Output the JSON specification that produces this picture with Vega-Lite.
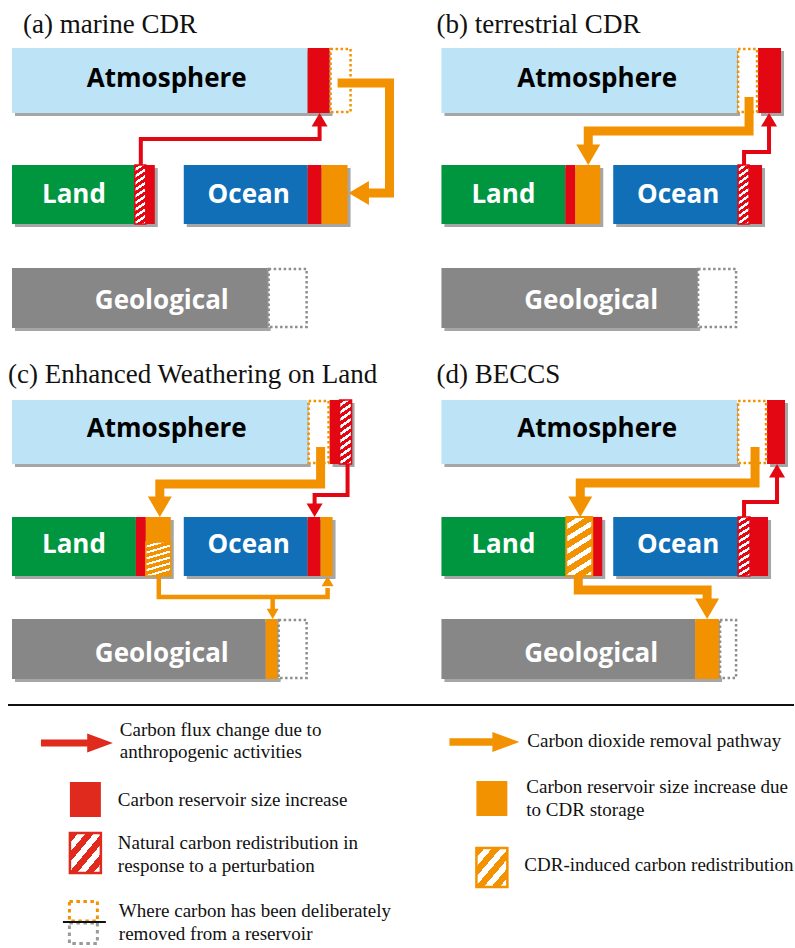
{
  "$schema": "https://vega.github.io/schema/vega-lite/v6.json",
  "width": 795,
  "height": 948,
  "padding": 0,
  "autosize": {"type": "fit", "contains": "padding"},
  "background": "white",
  "config": {"view": {"stroke": null}, "axis": {"disable": true}},
  "datasets": {
    "shadows": [
      {"x": 12, "x2": 330, "y": 48, "y2": 113}, {"x": 12, "x2": 155, "y": 165, "y2": 224}, {"x": 184, "x2": 348, "y": 165, "y2": 224}, {"x": 12, "x2": 268, "y": 268, "y2": 328},
      {"x": 442, "x2": 738, "y": 48, "y2": 113}, {"x": 759, "x2": 782, "y": 48, "y2": 113}, {"x": 442, "x2": 601, "y": 165, "y2": 224}, {"x": 614, "x2": 763, "y": 165, "y2": 224}, {"x": 442, "x2": 698, "y": 268, "y2": 328},
      {"x": 12, "x2": 308, "y": 400, "y2": 464}, {"x": 330, "x2": 352, "y": 400, "y2": 464}, {"x": 12, "x2": 171, "y": 517, "y2": 576}, {"x": 184, "x2": 333, "y": 517, "y2": 576}, {"x": 12, "x2": 278, "y": 619, "y2": 679},
      {"x": 442, "x2": 738, "y": 400, "y2": 464}, {"x": 768, "x2": 786, "y": 400, "y2": 464}, {"x": 442, "x2": 603, "y": 517, "y2": 576}, {"x": 614, "x2": 769, "y": 517, "y2": 576}, {"x": 442, "x2": 720, "y": 619, "y2": 679}
    ],
    "segments": [
      {"c": "atm", "x": 12, "x2": 308, "y": 48, "y2": 113}, {"c": "red", "x": 308, "x2": 330, "y": 48, "y2": 113},
      {"c": "land", "x": 12, "x2": 135, "y": 165, "y2": 224}, {"c": "red", "x": 146, "x2": 155, "y": 165, "y2": 224},
      {"c": "ocean", "x": 184, "x2": 308, "y": 165, "y2": 224}, {"c": "red", "x": 308, "x2": 322, "y": 165, "y2": 224}, {"c": "orange", "x": 322, "x2": 348, "y": 165, "y2": 224},
      {"c": "geo", "x": 12, "x2": 268, "y": 268, "y2": 328},
      {"c": "atm", "x": 442, "x2": 738, "y": 48, "y2": 113}, {"c": "red", "x": 759, "x2": 782, "y": 48, "y2": 113},
      {"c": "land", "x": 442, "x2": 566, "y": 165, "y2": 224}, {"c": "red", "x": 566, "x2": 576, "y": 165, "y2": 224}, {"c": "orange", "x": 576, "x2": 601, "y": 165, "y2": 224},
      {"c": "ocean", "x": 614, "x2": 739, "y": 165, "y2": 224}, {"c": "red", "x": 750, "x2": 763, "y": 165, "y2": 224},
      {"c": "geo", "x": 442, "x2": 698, "y": 268, "y2": 328},
      {"c": "atm", "x": 12, "x2": 308, "y": 400, "y2": 464}, {"c": "red", "x": 330, "x2": 340, "y": 400, "y2": 464},
      {"c": "land", "x": 12, "x2": 136, "y": 517, "y2": 576}, {"c": "red", "x": 136, "x2": 146, "y": 517, "y2": 576}, {"c": "orange", "x": 146, "x2": 171, "y": 517, "y2": 542},
      {"c": "ocean", "x": 184, "x2": 308, "y": 517, "y2": 576}, {"c": "red", "x": 308, "x2": 321, "y": 517, "y2": 576}, {"c": "orange", "x": 321, "x2": 333, "y": 517, "y2": 576},
      {"c": "geo", "x": 12, "x2": 266, "y": 619, "y2": 679}, {"c": "orange", "x": 266, "x2": 278, "y": 619, "y2": 679},
      {"c": "atm", "x": 442, "x2": 738, "y": 400, "y2": 464}, {"c": "red", "x": 768, "x2": 786, "y": 400, "y2": 464},
      {"c": "land", "x": 442, "x2": 567, "y": 517, "y2": 576}, {"c": "red", "x": 593, "x2": 603, "y": 517, "y2": 576},
      {"c": "ocean", "x": 614, "x2": 739, "y": 517, "y2": 576}, {"c": "red", "x": 751, "x2": 769, "y": 517, "y2": 576},
      {"c": "geo", "x": 442, "x2": 696, "y": 619, "y2": 679}, {"c": "orange", "x": 696, "x2": 720, "y": 619, "y2": 679},
      {"c": "legred", "x": 70, "x2": 101, "y": 782, "y2": 817}, {"c": "orange", "x": 477, "x2": 508, "y": 781, "y2": 816}
    ],
    "dotted": [
      {"k": "o", "x": 331, "x2": 351, "y": 49, "y2": 112}, {"k": "g", "x": 269, "x2": 307, "y": 269, "y2": 327},
      {"k": "o", "x": 739, "x2": 758, "y": 49, "y2": 112}, {"k": "g", "x": 699, "x2": 737, "y": 269, "y2": 327},
      {"k": "o", "x": 309, "x2": 329, "y": 401, "y2": 463}, {"k": "g", "x": 279, "x2": 307, "y": 620, "y2": 678},
      {"k": "o", "x": 739, "x2": 767, "y": 401, "y2": 463}, {"k": "g", "x": 721, "x2": 737, "y": 620, "y2": 678}
    ],
    "legdotted": [
      {"k": "o", "x": 69.5, "x2": 97.5, "y": 901.5, "y2": 921},
      {"k": "g", "x": 69.5, "x2": 97.5, "y": 923, "y2": 943.5}
    ],
    "paths": [
      {"id": "a_red", "kind": "anthro", "o": 1, "x": 141, "y": 165}, {"id": "a_red", "kind": "anthro", "o": 2, "x": 141, "y": 139}, {"id": "a_red", "kind": "anthro", "o": 3, "x": 320, "y": 139}, {"id": "a_red", "kind": "anthro", "o": 4, "x": 320, "y": 125},
      {"id": "a_org", "kind": "cdr", "o": 1, "x": 338, "y": 83}, {"id": "a_org", "kind": "cdr", "o": 2, "x": 390, "y": 83}, {"id": "a_org", "kind": "cdr", "o": 3, "x": 390, "y": 193}, {"id": "a_org", "kind": "cdr", "o": 4, "x": 366, "y": 193},
      {"id": "b_org", "kind": "cdr", "o": 1, "x": 750, "y": 97}, {"id": "b_org", "kind": "cdr", "o": 2, "x": 750, "y": 131}, {"id": "b_org", "kind": "cdr", "o": 3, "x": 589, "y": 131}, {"id": "b_org", "kind": "cdr", "o": 4, "x": 589, "y": 148},
      {"id": "b_red", "kind": "anthro", "o": 1, "x": 745, "y": 165}, {"id": "b_red", "kind": "anthro", "o": 2, "x": 745, "y": 152}, {"id": "b_red", "kind": "anthro", "o": 3, "x": 770, "y": 152}, {"id": "b_red", "kind": "anthro", "o": 4, "x": 770, "y": 125},
      {"id": "c_org", "kind": "cdr", "o": 1, "x": 321, "y": 447}, {"id": "c_org", "kind": "cdr", "o": 2, "x": 321, "y": 484}, {"id": "c_org", "kind": "cdr", "o": 3, "x": 160, "y": 484}, {"id": "c_org", "kind": "cdr", "o": 4, "x": 160, "y": 500},
      {"id": "c_red", "kind": "anthro", "o": 1, "x": 348, "y": 464}, {"id": "c_red", "kind": "anthro", "o": 2, "x": 348, "y": 495}, {"id": "c_red", "kind": "anthro", "o": 3, "x": 315, "y": 495}, {"id": "c_red", "kind": "anthro", "o": 4, "x": 315, "y": 505},
      {"id": "c_t1", "kind": "cdr_thin", "o": 1, "x": 159, "y": 576}, {"id": "c_t1", "kind": "cdr_thin", "o": 2, "x": 159, "y": 597}, {"id": "c_t1", "kind": "cdr_thin", "o": 3, "x": 328, "y": 597}, {"id": "c_t1", "kind": "cdr_thin", "o": 4, "x": 328, "y": 588},
      {"id": "c_t2", "kind": "cdr_thin", "o": 1, "x": 273, "y": 597}, {"id": "c_t2", "kind": "cdr_thin", "o": 2, "x": 273, "y": 610},
      {"id": "d_org1", "kind": "cdr", "o": 1, "x": 756, "y": 447}, {"id": "d_org1", "kind": "cdr", "o": 2, "x": 756, "y": 483}, {"id": "d_org1", "kind": "cdr", "o": 3, "x": 581, "y": 483}, {"id": "d_org1", "kind": "cdr", "o": 4, "x": 581, "y": 500},
      {"id": "d_red", "kind": "anthro", "o": 1, "x": 745, "y": 517}, {"id": "d_red", "kind": "anthro", "o": 2, "x": 745, "y": 502}, {"id": "d_red", "kind": "anthro", "o": 3, "x": 778, "y": 502}, {"id": "d_red", "kind": "anthro", "o": 4, "x": 778, "y": 476},
      {"id": "d_org2", "kind": "cdr", "o": 1, "x": 579, "y": 576}, {"id": "d_org2", "kind": "cdr", "o": 2, "x": 579, "y": 590}, {"id": "d_org2", "kind": "cdr", "o": 3, "x": 708, "y": 590}, {"id": "d_org2", "kind": "cdr", "o": 4, "x": 708, "y": 601},
      {"id": "l_red", "kind": "leg_anthro", "o": 1, "x": 41, "y": 743}, {"id": "l_red", "kind": "leg_anthro", "o": 2, "x": 88, "y": 743},
      {"id": "l_org", "kind": "leg_cdr", "o": 1, "x": 450, "y": 742}, {"id": "l_org", "kind": "leg_cdr", "o": 2, "x": 498, "y": 742}
    ],
    "heads": [
      {"kind": "anthro", "dir": "up", "x": 320, "y": 113}, {"kind": "cdr", "dir": "left", "x": 349, "y": 193},
      {"kind": "cdr", "dir": "down", "x": 589, "y": 165}, {"kind": "anthro", "dir": "up", "x": 770, "y": 113},
      {"kind": "cdr", "dir": "down", "x": 160, "y": 517}, {"kind": "anthro", "dir": "down", "x": 315, "y": 517},
      {"kind": "cdr_thin", "dir": "up", "x": 328, "y": 576}, {"kind": "cdr_thin", "dir": "down", "x": 273, "y": 619},
      {"kind": "cdr", "dir": "down", "x": 581, "y": 517}, {"kind": "anthro", "dir": "up", "x": 778, "y": 464}, {"kind": "cdr", "dir": "down", "x": 708, "y": 619},
      {"kind": "leg_anthro", "dir": "right", "x": 113, "y": 743}, {"kind": "leg_cdr", "dir": "right", "x": 520, "y": 742}
    ],
    "labels": [
      {"t": "Atmosphere", "k": "atm", "x": 167, "y": 87}, {"t": "Atmosphere", "k": "atm", "x": 598, "y": 87},
      {"t": "Atmosphere", "k": "atm", "x": 167, "y": 437}, {"t": "Atmosphere", "k": "atm", "x": 598, "y": 437},
      {"t": "Land", "k": "w", "x": 74, "y": 203}, {"t": "Land", "k": "w", "x": 504, "y": 203}, {"t": "Land", "k": "w", "x": 74, "y": 553}, {"t": "Land", "k": "w", "x": 504, "y": 553},
      {"t": "Ocean", "k": "w", "x": 249, "y": 203}, {"t": "Ocean", "k": "w", "x": 679, "y": 203}, {"t": "Ocean", "k": "w", "x": 249, "y": 553}, {"t": "Ocean", "k": "w", "x": 679, "y": 553},
      {"t": "Geological", "k": "w", "x": 162, "y": 309}, {"t": "Geological", "k": "w", "x": 592, "y": 309}, {"t": "Geological", "k": "w", "x": 162, "y": 662}, {"t": "Geological", "k": "w", "x": 592, "y": 662}
    ],
    "titles": [
      {"t": "(a) marine CDR", "x": 23, "y": 33}, {"t": "(b) terrestrial CDR", "x": 437, "y": 33},
      {"t": "(c) Enhanced Weathering on Land", "x": 8, "y": 383}, {"t": "(d) BECCS", "x": 437, "y": 383}
    ],
    "legtext": [
      {"t": "Carbon flux change due to", "x": 120, "y": 736}, {"t": "anthropogenic activities", "x": 120, "y": 758},
      {"t": "Carbon reservoir size increase", "x": 118, "y": 806},
      {"t": "Natural carbon redistribution in", "x": 118, "y": 849}, {"t": "response to a perturbation", "x": 118, "y": 872},
      {"t": "Where carbon has been deliberately", "x": 119, "y": 917}, {"t": "removed from a reservoir", "x": 119, "y": 940},
      {"t": "Carbon dioxide removal pathway", "x": 528, "y": 747},
      {"t": "Carbon reservoir size increase due", "x": 527, "y": 793}, {"t": "to CDR storage", "x": 527, "y": 816},
      {"t": "CDR-induced carbon redistribution", "x": 525, "y": 871}
    ],
    "rules": [
      {"x": 8, "x2": 795, "y": 705},
      {"x": 63, "x2": 106, "y": 922}
    ]
  },
  "resolve": {"scale": {"color": "independent", "stroke": "independent", "size": "independent", "shape": "independent", "strokeWidth": "independent"}},
  "layer": [
    {
      "data": {"name": "shadows"},
      "mark": {"type": "rect", "color": "#3a3a3a", "opacity": 0.45, "xOffset": 3, "x2Offset": 3, "yOffset": 3, "y2Offset": 3},
      "encoding": {
        "x": {"field": "x", "type": "quantitative", "scale": {"domain": [0, 795], "nice": false}},
        "x2": {"field": "x2"},
        "y": {"field": "y", "type": "quantitative", "scale": {"domain": [0, 948], "nice": false, "reverse": true}},
        "y2": {"field": "y2"}
      }
    },
    {
      "data": {"name": "segments"},
      "mark": {"type": "rect", "opacity": 1},
      "encoding": {
        "x": {"field": "x", "type": "quantitative", "scale": {"domain": [0, 795], "nice": false}},
        "x2": {"field": "x2"},
        "y": {"field": "y", "type": "quantitative", "scale": {"domain": [0, 948], "nice": false, "reverse": true}},
        "y2": {"field": "y2"},
        "color": {"field": "c", "type": "nominal", "legend": null,
          "scale": {"domain": ["atm", "land", "ocean", "geo", "red", "orange", "legred"],
                    "range": ["#bde3f6", "#009640", "#106fb7", "#878787", "#e30613", "#f39200", "#df2a1d"]}}
      }
    },
    {
      "data": {"name": "dotted"},
      "mark": {"type": "rect", "fill": "white", "strokeWidth": 2.5, "strokeDash": [2.5, 2.5]},
      "encoding": {
        "x": {"field": "x", "type": "quantitative", "scale": {"domain": [0, 795], "nice": false}},
        "x2": {"field": "x2"},
        "y": {"field": "y", "type": "quantitative", "scale": {"domain": [0, 948], "nice": false, "reverse": true}},
        "y2": {"field": "y2"},
        "stroke": {"field": "k", "type": "nominal", "legend": null, "scale": {"domain": ["o", "g"], "range": ["#f39200", "#8e8e8e"]}}
      }
    },
    {
      "data": {"name": "legdotted"},
      "mark": {"type": "rect", "fill": "white", "strokeWidth": 3, "strokeDash": [3.5, 3.5]},
      "encoding": {
        "x": {"field": "x", "type": "quantitative", "scale": {"domain": [0, 795], "nice": false}},
        "x2": {"field": "x2"},
        "y": {"field": "y", "type": "quantitative", "scale": {"domain": [0, 948], "nice": false, "reverse": true}},
        "y2": {"field": "y2"},
        "stroke": {"field": "k", "type": "nominal", "legend": null, "scale": {"domain": ["o", "g"], "range": ["#f39200", "#9a9a9a"]}}
      }
    },
    {
      "data": {"values": [
        {"x": 135, "x2": 146, "y": 165, "y2": 224}, {"x": 739, "x2": 750, "y": 165, "y2": 224},
        {"x": 340, "x2": 352, "y": 400, "y2": 464}, {"x": 739, "x2": 751, "y": 517, "y2": 576}
      ]},
      "mark": {"type": "rect", "stroke": "#e30613", "strokeWidth": 1.5,
        "fill": {"gradient": "linear", "x1": 0, "y1": 0, "x2": 0.145, "y2": 1.11, "stops": [
          {"offset": 0, "color": "#e30613"}, {"offset": 0.055, "color": "#e30613"}, {"offset": 0.055, "color": "#ffffff"}, {"offset": 0.1, "color": "#ffffff"},
          {"offset": 0.1, "color": "#e30613"}, {"offset": 0.155, "color": "#e30613"}, {"offset": 0.155, "color": "#ffffff"}, {"offset": 0.2, "color": "#ffffff"},
          {"offset": 0.2, "color": "#e30613"}, {"offset": 0.255, "color": "#e30613"}, {"offset": 0.255, "color": "#ffffff"}, {"offset": 0.3, "color": "#ffffff"},
          {"offset": 0.3, "color": "#e30613"}, {"offset": 0.355, "color": "#e30613"}, {"offset": 0.355, "color": "#ffffff"}, {"offset": 0.4, "color": "#ffffff"},
          {"offset": 0.4, "color": "#e30613"}, {"offset": 0.455, "color": "#e30613"}, {"offset": 0.455, "color": "#ffffff"}, {"offset": 0.5, "color": "#ffffff"},
          {"offset": 0.5, "color": "#e30613"}, {"offset": 0.555, "color": "#e30613"}, {"offset": 0.555, "color": "#ffffff"}, {"offset": 0.6, "color": "#ffffff"},
          {"offset": 0.6, "color": "#e30613"}, {"offset": 0.655, "color": "#e30613"}, {"offset": 0.655, "color": "#ffffff"}, {"offset": 0.7, "color": "#ffffff"},
          {"offset": 0.7, "color": "#e30613"}, {"offset": 0.755, "color": "#e30613"}, {"offset": 0.755, "color": "#ffffff"}, {"offset": 0.8, "color": "#ffffff"},
          {"offset": 0.8, "color": "#e30613"}, {"offset": 0.855, "color": "#e30613"}, {"offset": 0.855, "color": "#ffffff"}, {"offset": 0.9, "color": "#ffffff"},
          {"offset": 0.9, "color": "#e30613"}, {"offset": 0.955, "color": "#e30613"}, {"offset": 0.955, "color": "#ffffff"}, {"offset": 1, "color": "#ffffff"}
        ]}},
      "encoding": {
        "x": {"field": "x", "type": "quantitative", "scale": {"domain": [0, 795], "nice": false}},
        "x2": {"field": "x2"},
        "y": {"field": "y", "type": "quantitative", "scale": {"domain": [0, 948], "nice": false, "reverse": true}},
        "y2": {"field": "y2"}
      }
    },
    {
      "data": {"values": [{"x": 567, "x2": 593, "y": 517, "y2": 576}]},
      "mark": {"type": "rect", "stroke": "#f39200", "strokeWidth": 2,
        "fill": {"gradient": "linear", "x1": 0, "y1": 0, "x2": 0.326, "y2": 1.185, "stops": [
          {"offset": 0, "color": "#f39200"}, {"offset": 0.095, "color": "#f39200"}, {"offset": 0.095, "color": "#ffffff"}, {"offset": 0.1667, "color": "#ffffff"},
          {"offset": 0.1667, "color": "#f39200"}, {"offset": 0.2617, "color": "#f39200"}, {"offset": 0.2617, "color": "#ffffff"}, {"offset": 0.3333, "color": "#ffffff"},
          {"offset": 0.3333, "color": "#f39200"}, {"offset": 0.4283, "color": "#f39200"}, {"offset": 0.4283, "color": "#ffffff"}, {"offset": 0.5, "color": "#ffffff"},
          {"offset": 0.5, "color": "#f39200"}, {"offset": 0.595, "color": "#f39200"}, {"offset": 0.595, "color": "#ffffff"}, {"offset": 0.6667, "color": "#ffffff"},
          {"offset": 0.6667, "color": "#f39200"}, {"offset": 0.7617, "color": "#f39200"}, {"offset": 0.7617, "color": "#ffffff"}, {"offset": 0.8333, "color": "#ffffff"},
          {"offset": 0.8333, "color": "#f39200"}, {"offset": 0.9283, "color": "#f39200"}, {"offset": 0.9283, "color": "#ffffff"}, {"offset": 1, "color": "#ffffff"}
        ]}},
      "encoding": {
        "x": {"field": "x", "type": "quantitative", "scale": {"domain": [0, 795], "nice": false}},
        "x2": {"field": "x2"},
        "y": {"field": "y", "type": "quantitative", "scale": {"domain": [0, 948], "nice": false, "reverse": true}},
        "y2": {"field": "y2"}
      }
    },
    {
      "data": {"values": [{"x": 146, "x2": 171, "y": 542, "y2": 576}]},
      "mark": {"type": "rect", "stroke": "#f39200", "strokeWidth": 1.5,
        "fill": {"gradient": "linear", "x1": 0, "y1": 0, "x2": 0.247, "y2": 1.16, "stops": [
          {"offset": 0, "color": "#f39200"}, {"offset": 0.09, "color": "#f39200"}, {"offset": 0.09, "color": "#ffffff"}, {"offset": 0.1429, "color": "#ffffff"},
          {"offset": 0.1429, "color": "#f39200"}, {"offset": 0.2329, "color": "#f39200"}, {"offset": 0.2329, "color": "#ffffff"}, {"offset": 0.2857, "color": "#ffffff"},
          {"offset": 0.2857, "color": "#f39200"}, {"offset": 0.3757, "color": "#f39200"}, {"offset": 0.3757, "color": "#ffffff"}, {"offset": 0.4286, "color": "#ffffff"},
          {"offset": 0.4286, "color": "#f39200"}, {"offset": 0.5186, "color": "#f39200"}, {"offset": 0.5186, "color": "#ffffff"}, {"offset": 0.5714, "color": "#ffffff"},
          {"offset": 0.5714, "color": "#f39200"}, {"offset": 0.6614, "color": "#f39200"}, {"offset": 0.6614, "color": "#ffffff"}, {"offset": 0.7143, "color": "#ffffff"},
          {"offset": 0.7143, "color": "#f39200"}, {"offset": 0.8043, "color": "#f39200"}, {"offset": 0.8043, "color": "#ffffff"}, {"offset": 0.8571, "color": "#ffffff"},
          {"offset": 0.8571, "color": "#f39200"}, {"offset": 1, "color": "#f39200"}
        ]}},
      "encoding": {
        "x": {"field": "x", "type": "quantitative", "scale": {"domain": [0, 795], "nice": false}},
        "x2": {"field": "x2"},
        "y": {"field": "y", "type": "quantitative", "scale": {"domain": [0, 948], "nice": false, "reverse": true}},
        "y2": {"field": "y2"}
      }
    },
    {
      "data": {"values": [{"x": 70, "x2": 101, "y": 833, "y2": 873}]},
      "mark": {"type": "rect", "stroke": "#df2a1d", "strokeWidth": 2.5,
        "fill": {"gradient": "linear", "x1": 0, "y1": 0, "x2": 0.962, "y2": 1.035, "stops": [
          {"offset": 0, "color": "#df2a1d"}, {"offset": 0.13, "color": "#df2a1d"}, {"offset": 0.13, "color": "#ffffff"}, {"offset": 0.25, "color": "#ffffff"},
          {"offset": 0.25, "color": "#df2a1d"}, {"offset": 0.38, "color": "#df2a1d"}, {"offset": 0.38, "color": "#ffffff"}, {"offset": 0.5, "color": "#ffffff"},
          {"offset": 0.5, "color": "#df2a1d"}, {"offset": 0.63, "color": "#df2a1d"}, {"offset": 0.63, "color": "#ffffff"}, {"offset": 0.75, "color": "#ffffff"},
          {"offset": 0.75, "color": "#df2a1d"}, {"offset": 0.88, "color": "#df2a1d"}, {"offset": 0.88, "color": "#ffffff"}, {"offset": 0.96, "color": "#ffffff"},
          {"offset": 0.96, "color": "#df2a1d"}, {"offset": 1, "color": "#df2a1d"}
        ]}},
      "encoding": {
        "x": {"field": "x", "type": "quantitative", "scale": {"domain": [0, 795], "nice": false}},
        "x2": {"field": "x2"},
        "y": {"field": "y", "type": "quantitative", "scale": {"domain": [0, 948], "nice": false, "reverse": true}},
        "y2": {"field": "y2"}
      }
    },
    {
      "data": {"values": [{"x": 477, "x2": 508, "y": 848, "y2": 887}]},
      "mark": {"type": "rect", "stroke": "#f39200", "strokeWidth": 2.5,
        "fill": {"gradient": "linear", "x1": 0, "y1": 0, "x2": 0.962, "y2": 1.035, "stops": [
          {"offset": 0, "color": "#f39200"}, {"offset": 0.13, "color": "#f39200"}, {"offset": 0.13, "color": "#ffffff"}, {"offset": 0.25, "color": "#ffffff"},
          {"offset": 0.25, "color": "#f39200"}, {"offset": 0.38, "color": "#f39200"}, {"offset": 0.38, "color": "#ffffff"}, {"offset": 0.5, "color": "#ffffff"},
          {"offset": 0.5, "color": "#f39200"}, {"offset": 0.63, "color": "#f39200"}, {"offset": 0.63, "color": "#ffffff"}, {"offset": 0.75, "color": "#ffffff"},
          {"offset": 0.75, "color": "#f39200"}, {"offset": 0.88, "color": "#f39200"}, {"offset": 0.88, "color": "#ffffff"}, {"offset": 0.96, "color": "#ffffff"},
          {"offset": 0.96, "color": "#f39200"}, {"offset": 1, "color": "#f39200"}
        ]}},
      "encoding": {
        "x": {"field": "x", "type": "quantitative", "scale": {"domain": [0, 795], "nice": false}},
        "x2": {"field": "x2"},
        "y": {"field": "y", "type": "quantitative", "scale": {"domain": [0, 948], "nice": false, "reverse": true}},
        "y2": {"field": "y2"}
      }
    },
    {
      "data": {"name": "paths"},
      "mark": {"type": "line", "strokeCap": "butt", "strokeJoin": "miter", "opacity": 1},
      "encoding": {
        "x": {"field": "x", "type": "quantitative", "scale": {"domain": [0, 795], "nice": false}},
        "y": {"field": "y", "type": "quantitative", "scale": {"domain": [0, 948], "nice": false, "reverse": true}},
        "detail": {"field": "id", "type": "nominal"},
        "order": {"field": "o", "type": "quantitative"},
        "color": {"field": "kind", "type": "nominal", "legend": null,
          "scale": {"domain": ["cdr", "anthro", "cdr_thin", "leg_anthro", "leg_cdr"], "range": ["#f39200", "#e30613", "#f39200", "#df2a1d", "#f39200"]}},
        "strokeWidth": {"field": "kind", "type": "nominal", "legend": null,
          "scale": {"type": "ordinal", "domain": ["cdr", "anthro", "cdr_thin", "leg_anthro", "leg_cdr"], "range": [9, 4, 4.5, 7, 7.5]}}
      }
    },
    {
      "data": {"name": "heads"},
      "mark": {"type": "point", "filled": true, "opacity": 1, "strokeWidth": 0},
      "encoding": {
        "x": {"field": "x", "type": "quantitative", "scale": {"domain": [0, 795], "nice": false}},
        "y": {"field": "y", "type": "quantitative", "scale": {"domain": [0, 948], "nice": false, "reverse": true}},
        "color": {"field": "kind", "type": "nominal", "legend": null,
          "scale": {"domain": ["cdr", "anthro", "cdr_thin", "leg_anthro", "leg_cdr"], "range": ["#f39200", "#e30613", "#f39200", "#df2a1d", "#f39200"]}},
        "size": {"field": "kind", "type": "nominal", "legend": null,
          "scale": {"type": "ordinal", "domain": ["cdr", "anthro", "cdr_thin", "leg_anthro", "leg_cdr"], "range": [576, 256, 144, 361, 400]}},
        "shape": {"field": "dir", "type": "nominal", "legend": null,
          "scale": {"domain": ["up", "down", "left", "right"],
                    "range": ["M0,0L-1,1.7L1,1.7Z", "M0,0L-1,-1.7L1,-1.7Z", "M0,0L1.7,-1L1.7,1Z", "M0,0L-2.7,-1L-2.7,1Z"]}}
      }
    },
    {
      "data": {"name": "labels"},
      "transform": [{"filter": "datum.k == 'atm'"}],
      "mark": {"type": "text", "font": "Open Sans", "fontWeight": "bold", "fontSize": 26, "align": "center", "baseline": "alphabetic", "color": "#000000"},
      "encoding": {
        "x": {"field": "x", "type": "quantitative", "scale": {"domain": [0, 795], "nice": false}},
        "y": {"field": "y", "type": "quantitative", "scale": {"domain": [0, 948], "nice": false, "reverse": true}},
        "text": {"field": "t"}
      }
    },
    {
      "data": {"name": "labels"},
      "transform": [{"filter": "datum.k == 'w'"}],
      "mark": {"type": "text", "font": "Open Sans", "fontWeight": "bold", "fontSize": 26, "align": "center", "baseline": "alphabetic", "color": "#ffffff"},
      "encoding": {
        "x": {"field": "x", "type": "quantitative", "scale": {"domain": [0, 795], "nice": false}},
        "y": {"field": "y", "type": "quantitative", "scale": {"domain": [0, 948], "nice": false, "reverse": true}},
        "text": {"field": "t"}
      }
    },
    {
      "data": {"name": "titles"},
      "mark": {"type": "text", "font": "Liberation Serif", "fontSize": 27, "align": "left", "baseline": "alphabetic", "color": "#111111"},
      "encoding": {
        "x": {"field": "x", "type": "quantitative", "scale": {"domain": [0, 795], "nice": false}},
        "y": {"field": "y", "type": "quantitative", "scale": {"domain": [0, 948], "nice": false, "reverse": true}},
        "text": {"field": "t"}
      }
    },
    {
      "data": {"name": "legtext"},
      "mark": {"type": "text", "font": "Liberation Serif", "fontSize": 19, "align": "left", "baseline": "alphabetic", "color": "#111111"},
      "encoding": {
        "x": {"field": "x", "type": "quantitative", "scale": {"domain": [0, 795], "nice": false}},
        "y": {"field": "y", "type": "quantitative", "scale": {"domain": [0, 948], "nice": false, "reverse": true}},
        "text": {"field": "t"}
      }
    },
    {
      "data": {"name": "rules"},
      "mark": {"type": "rule", "color": "#111111", "strokeWidth": 1.8},
      "encoding": {
        "x": {"field": "x", "type": "quantitative", "scale": {"domain": [0, 795], "nice": false}},
        "x2": {"field": "x2"},
        "y": {"field": "y", "type": "quantitative", "scale": {"domain": [0, 948], "nice": false, "reverse": true}}
      }
    }
  ]
}
